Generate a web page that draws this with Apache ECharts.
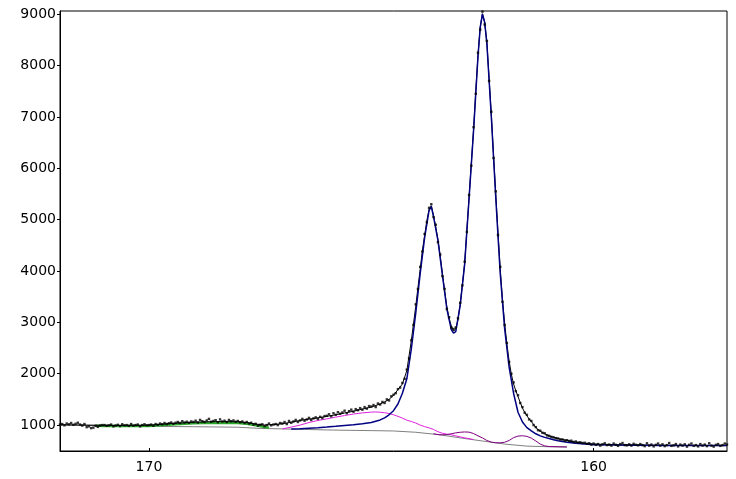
<!DOCTYPE html>
<html>
<head>
<meta charset="utf-8">
<script src="https://cdn.jsdelivr.net/npm/echarts@6/dist/echarts.min.js"></script>
<style>
html,body{margin:0;padding:0;background:#fff;}
#chart{width:736px;height:479px;}
</style>
</head>
<body>
<div id="chart"></div>
<script>
// Measured counts: energy grid 172.00 -> 157.00, step 0.05 eV
const dataStart = 172.0;
const dataStep = 0.05;
const dataCounts = [
  1010,1020,995,1030,1015,1040,1005,1025,1045,1010,990,1020,960,975,940,950,985,965,990,1000,
  1000,985,995,1010,975,990,1005,980,1015,995,1000,985,1020,990,1000,1010,975,1000,1015,995,
  1000,1010,985,1020,1005,1030,1015,1040,1020,1035,1050,1025,1045,1060,1040,1075,1050,1065,1045,1070,
  1060,1085,1050,1100,1075,1060,1090,1120,1065,1080,1095,1055,1110,1070,1085,1060,1100,1075,1090,1065,
  1080,1055,1070,1040,1060,1030,1045,1010,1025,990,1005,1015,980,1000,1030,995,1010,1020,1000,1040,
  1030,1060,1020,1080,1045,1070,1100,1060,1090,1120,1085,1110,1140,1100,1130,1150,1120,1160,1135,1175,
  1180,1210,1170,1230,1200,1250,1220,1245,1280,1230,1270,1300,1260,1310,1290,1330,1300,1350,1320,1370,
  1360,1390,1350,1420,1400,1450,1430,1500,1480,1560,1590,1620,1700,1730,1820,1900,2080,2300,2650,2950,
  3350,3650,4080,4380,4720,4950,5230,5300,5050,4900,4560,4320,3900,3650,3260,3100,2900,2870,2900,3080,
  3380,3720,4180,4760,5480,6050,6800,7450,8250,8700,9050,8800,8480,7700,7100,6200,5550,4700,4080,3400,
  2950,2600,2230,2000,1830,1660,1580,1430,1350,1240,1200,1110,1080,1000,960,900,890,850,840,800,
  790,770,760,745,740,720,720,700,705,690,695,670,680,660,665,650,655,635,645,620,
  640,615,630,600,625,645,610,620,600,640,615,595,630,650,610,605,625,600,635,615,
  605,630,610,590,645,600,620,585,615,640,600,625,590,610,650,595,605,630,585,620,
  600,625,580,615,640,595,610,585,630,600,620,590,645,600,580,615,630,595,610,640,
  620
];

// Envelope (total fit)
const envE = [172.0,171.5,171.0,170.5,170.0,169.5,169.0,168.5,168.0,167.8,167.6,167.4,167.2,167.0,166.8,166.6,166.4,166.2,166.0,165.8,165.6,165.4,165.2,165.0,164.8,164.7,164.6,164.5,164.4,164.3,164.2,164.1,164.0,163.95,163.9,163.85,163.8,163.75,163.7,163.65,163.6,163.55,163.5,163.45,163.4,163.35,163.3,163.25,163.2,163.15,163.1,163.05,163.0,162.95,162.9,162.85,162.8,162.75,162.7,162.65,162.6,162.55,162.5,162.45,162.4,162.35,162.3,162.25,162.2,162.15,162.1,162.05,162.0,161.95,161.9,161.85,161.8,161.75,161.7,161.65,161.6,161.55,161.5,161.45,161.4,161.35,161.3,161.25,161.2,161.15,161.1,161.05,161.0,160.8,160.6,160.4,160.2,160.0,159.5,159.0,158.5,158.0,157.5,157.0];
const envV = [1005,1000,995,993,997,1030,1055,1068,1065,1050,1020,1000,1010,1025,1055,1090,1115,1140,1170,1200,1235,1270,1310,1350,1410,1450,1500,1580,1690,1800,2060,2640,3310,3680,4030,4400,4690,4980,5200,5270,5080,4860,4610,4300,3950,3620,3300,3080,2930,2830,2870,3050,3360,3750,4150,4800,5440,6100,6750,7500,8200,8750,9010,8850,8450,7750,7050,6250,5500,4750,4050,3450,2980,2580,2250,1990,1800,1670,1556,1440,1330,1250,1180,1120,1070,1010,950,915,880,855,830,810,790,735,700,665,645,630,618,610,606,603,601,600];

// Main doublet component (with background)
const blueE = [166.8,166.6,166.4,166.2,166.0,165.8,165.6,165.4,165.2,165.0,164.8,164.7,164.6,164.5,164.4,164.3,164.2,164.1,164.0,163.9,163.8,163.7,163.65,163.6,163.5,163.4,163.3,163.2,163.15,163.1,163.0,162.9,162.8,162.7,162.6,162.55,162.5,162.45,162.4,162.3,162.2,162.1,162.0,161.9,161.8,161.7,161.6,161.5,161.4,161.3,161.2,161.1,161.0,160.9,160.8,160.7,160.6,160.4,160.2,160.0,159.5,159.0,158.5,158.0,157.5,157.0];
const blueV = [925,930,940,950,962,975,990,1005,1025,1050,1100,1140,1200,1280,1410,1620,1900,2480,3180,3950,4650,5180,5255,5060,4590,3920,3260,2860,2790,2820,3330,4130,5420,6720,8180,8740,9000,8840,8430,7000,5420,3950,2870,2130,1620,1250,1060,950,885,830,790,760,740,715,695,680,665,645,630,618,610,606,603,601,600,600];

// Broad component (magenta)
const magE = [167.0,166.8,166.6,166.4,166.2,166.0,165.8,165.6,165.4,165.2,165.0,164.9,164.8,164.7,164.6,164.5,164.4,164.3,164.2,164.1,164.0,163.9,163.8,163.7,163.6,163.5,163.4,163.3,163.2,163.1,163.0,162.9,162.8,162.7];
const magV = [925,960,1000,1050,1090,1120,1155,1185,1215,1237,1252,1255,1250,1240,1225,1200,1170,1135,1095,1070,1040,1000,970,945,915,870,840,822,810,790,770,752,735,718];

// Small doublet component (purple)
const purE = [163.6,163.5,163.4,163.3,163.2,163.1,163.0,162.9,162.8,162.7,162.6,162.5,162.4,162.3,162.2,162.1,162.0,161.9,161.8,161.7,161.6,161.5,161.4,161.3,161.2,161.1,161.0,160.8,160.6];
const purV = [830,815,810,815,830,848,860,866,862,835,790,750,700,668,655,655,665,700,755,785,792,780,745,690,630,595,582,578,574];

// Green component (left)
const greenE = [171.2,171.0,170.5,170.0,169.5,169.0,168.5,168.0,167.8,167.6,167.4,167.3];
const greenV = [985,982,980,983,1010,1035,1045,1040,1025,995,962,948];

// Background (gray)
const baseE = [172.0,171.0,170.0,169.0,168.0,167.5,167.0,166.5,166.0,165.5,165.0,164.5,164.0,163.5,163.0,162.5,162.0,161.5,161.0,160.6];
const baseV = [1000,990,975,968,958,935,925,915,905,898,892,885,860,815,750,690,630,590,578,572];

const xTicks = [160, 170];
const yTicks = [1000,2000,3000,4000,5000,6000,7000,8000,9000];

function zip(a, b) { return a.map((x, i) => [x, b[i]]); }
const dataPts = dataCounts.map((v, i) => [+(dataStart - dataStep * i).toFixed(2), v]);

const chart = echarts.init(document.getElementById('chart'), null, {renderer: 'canvas'});
const font = 'DejaVu Sans';
function lineSeries(name, data, color, width, z) {
  return {name, type: 'line', data, showSymbol: false, symbol: 'none', z,
    lineStyle: {color, width}, animation: false, silent: true};
}
chart.setOption({
  animation: false,
  backgroundColor: '#fff',
  grid: {left: 60, right: 9, top: 11, bottom: 28, show: true, borderColor: '#000', borderWidth: 1, containLabel: false},
  xAxis: {
    type: 'value', min: 157, max: 172, inverse: true,
    axisLine: {show: true, lineStyle: {color: '#000', width: 1}},
    axisTick: {show: true, inside: true, length: 3, customValues: xTicks, lineStyle: {color: '#000'}},
    axisLabel: {customValues: xTicks, color: '#000', fontFamily: font, fontSize: 14, margin: 9,
      formatter: v => String(v)},
    splitLine: {show: false}
  },
  yAxis: {
    type: 'value', min: 495, max: 9062,
    axisLine: {show: true, lineStyle: {color: '#000', width: 1}},
    axisTick: {show: true, inside: false, length: 3, customValues: yTicks, lineStyle: {color: '#000'}},
    axisLabel: {customValues: yTicks, color: '#000', fontFamily: font, fontSize: 14, margin: 4,
      formatter: v => String(v)},
    splitLine: {show: false}
  },
  series: [
    lineSeries('background', zip(baseE, baseV), '#808080', 1, 1),
    lineSeries('green', zip(greenE, greenV), '#2eaa2e', 2.5, 2),
    lineSeries('magenta', zip(magE, magV), '#dd22dd', 1, 3),
    lineSeries('purple', zip(purE, purV), '#800080', 1, 4),
    lineSeries('envelope', zip(envE, envV), '#000000', 1, 5),
    lineSeries('doublet', zip(blueE, blueV), '#000080', 1.5, 6),
    {name: 'data', type: 'scatter', data: dataPts, symbol: 'rect', symbolSize: 2.4, z: 7,
      itemStyle: {color: '#000'}, animation: false, silent: true}
  ]
});
</script>
</body>
</html>
